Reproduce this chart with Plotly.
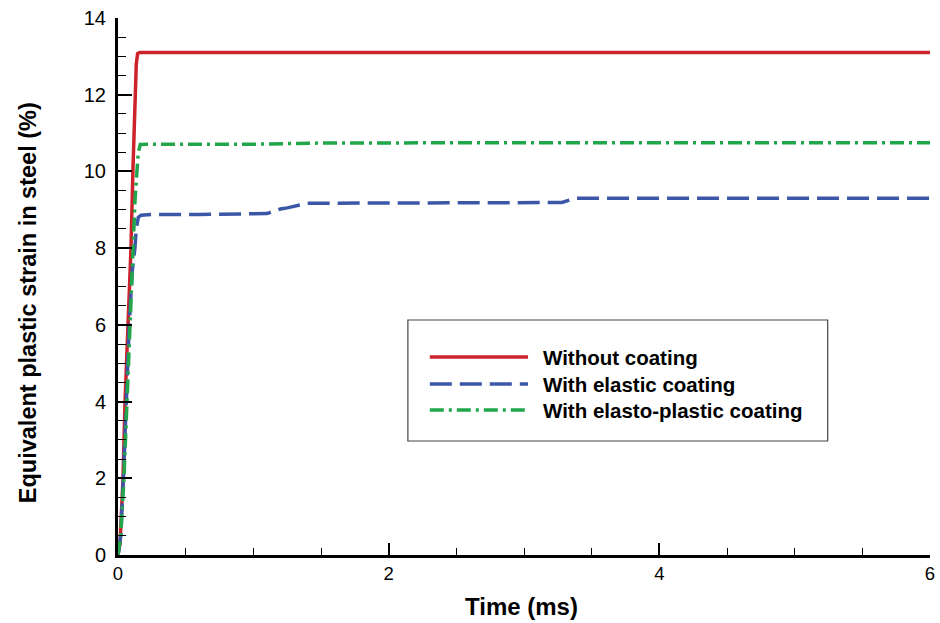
import plotly.graph_objects as go

# Equivalent plastic strain (%) in the steel plate versus time (ms)
t_none = [0.0, 0.015, 0.037, 0.052, 0.074, 0.096, 0.11, 0.126, 0.135, 0.145, 0.16, 1.0, 3.0, 6.0]
s_none = [0.0, 0.3, 2.0, 4.0, 6.0, 8.0, 10.0, 12.0, 12.8, 13.07, 13.1, 13.1, 13.1, 13.1]

t_elastic = [0.0, 0.02, 0.04, 0.06, 0.083, 0.105, 0.125, 0.135, 0.15, 0.17, 0.25, 0.6, 1.1, 1.2, 1.25, 1.4, 2.5, 3.28, 3.38, 4.5, 6.0]
s_elastic = [0.0, 0.5, 2.0, 4.0, 6.0, 7.4, 8.0, 8.5, 8.8, 8.86, 8.88, 8.88, 8.9, 9.02, 9.05, 9.17, 9.18, 9.19, 9.3, 9.3, 9.3]

t_plastic = [0.0, 0.02, 0.044, 0.066, 0.09, 0.11, 0.125, 0.14, 0.15, 0.165, 0.25, 1.0, 1.5, 3.0, 6.0]
s_plastic = [0.0, 0.5, 2.0, 4.0, 6.0, 8.0, 9.2, 10.0, 10.5, 10.7, 10.71, 10.71, 10.74, 10.75, 10.75]

labels = ["Without coating", "With elastic coating", "With elasto-plastic coating"]
colors = ["#CC2229", "#3D57A8", "#21A64B"]
dashes = ["solid", "22px,8px", "14px,5px,3px,5px"]

x_ticks = [0, 2, 4, 6]
y_ticks = [0, 2, 4, 6, 8, 10, 12, 14]

FONT = "Liberation Sans, Arial"

fig = go.Figure()
for t, s, name, c, d in zip([t_none, t_elastic, t_plastic],
                            [s_none, s_elastic, s_plastic],
                            labels, colors, dashes):
    fig.add_trace(go.Scatter(x=t, y=s, mode="lines", name=name,
                             line=dict(color=c, width=3.5, dash=d),
                             showlegend=False))

# Boxed legend drawn in paper coordinates
lx0, lx1, ly0, ly1 = 0.357, 0.874, 0.2123, 0.4376
fig.add_shape(type="rect", xref="paper", yref="paper", x0=lx0, x1=lx1, y0=ly0, y1=ly1,
              line=dict(color="#444444", width=1.2), fillcolor="white", layer="above")
rows = [0.3687, 0.3184, 0.2700]
for yy, name, c, d in zip(rows, labels, colors, dashes):
    fig.add_shape(type="line", xref="paper", yref="paper", x0=0.384, x1=0.505, y0=yy, y1=yy,
                  line=dict(color=c, width=3.5, dash=d), layer="above")
    fig.add_annotation(xref="paper", yref="paper", x=0.521, y=yy, text=f"<b>{name}</b>",
                       showarrow=False, xanchor="left", yanchor="middle",
                       font=dict(family=FONT, size=20.5, color="black"))

# Axis titles
fig.add_annotation(xref="paper", yref="paper", x=0.4975, y=-0.0968,
                   text="<b>Time (ms)</b>", showarrow=False,
                   xanchor="center", yanchor="middle",
                   font=dict(family=FONT, size=24, color="black"))
fig.add_annotation(xref="paper", yref="paper", x=-0.1108, y=0.469,
                   text="<b>Equivalent plastic strain in steel (%)</b>", showarrow=False,
                   textangle=-90, xanchor="center", yanchor="middle",
                   font=dict(family=FONT, size=23.5, color="black"))

axis_common = dict(showgrid=False, zeroline=False, showline=True, linecolor="black",
                   linewidth=3, ticks="inside", tickcolor="black", tickwidth=2,
                   mirror=False, automargin=False)

fig.update_xaxes(range=[0, 6], tickvals=x_ticks, ticklen=12,
                 minor=dict(dtick=0.5, ticks="inside", ticklen=7, tickwidth=1, tickcolor="black"),
                 tickfont=dict(family=FONT, size=18.5, color="black"),
                 **axis_common)
fig.update_yaxes(range=[0, 14], tickvals=y_ticks, ticklen=14,
                 minor=dict(dtick=0.5, ticks="inside", ticklen=8, tickwidth=1, tickcolor="black"),
                 tickfont=dict(family=FONT, size=20, color="black"),
                 ticklabelstandoff=5,
                 **axis_common)

fig.update_layout(width=940, height=623, margin=dict(l=118, r=10, t=18, b=68),
                  plot_bgcolor="white", paper_bgcolor="white")

fig.write_html("out.html")
